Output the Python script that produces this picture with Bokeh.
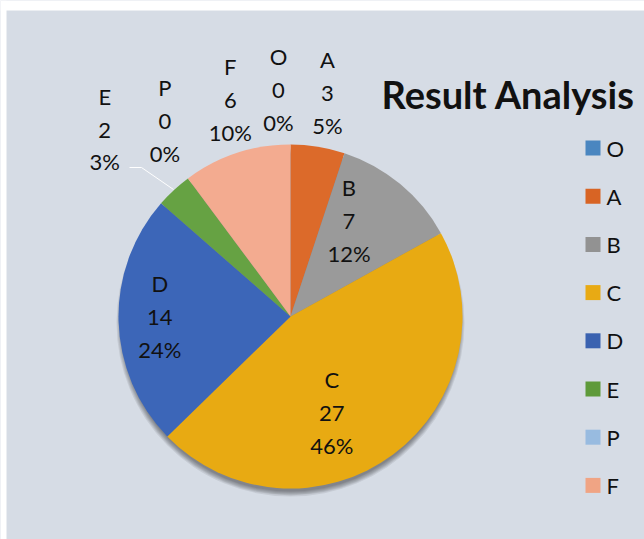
import math
from bokeh.plotting import figure
from bokeh.models import Range1d, ColumnDataSource
from bokeh.embed import file_html
from bokeh.resources import INLINE
from bokeh.core.properties import value

# ---- data ----
categories = ["O", "A", "B", "C", "D", "E", "P", "F"]
values = [0, 3, 7, 27, 14, 2, 0, 6]
colors = ["#4e88c6", "#dc6a2a", "#9a9a9a", "#e8aa12", "#3c66b8", "#66a243", "#9cc0e6", "#f3ab90"]
legend_colors = ["#4a86c0", "#d86424", "#929292", "#e8aa14", "#3a62b0", "#5e9a3a", "#98bbe0", "#f0a484"]
title = "Result Analysis"

# label anchor positions, in units of the pie radius (dx, dy from centre)
label_pos = [(-0.07, 1.32), (0.215, 1.30), (0.34, 0.56), (0.24, -0.56),
             (-0.76, 0.0), (-1.08, 1.09), (-0.73, 1.14), (-0.35, 1.26)]

# ---- layout ----
W, H = 644, 539
CX, CY, R = 290, 316, 172
FONT = "Lato"

p = figure(width=W, height=H, x_range=Range1d(0, W), y_range=Range1d(-H, 0),
           output_backend="svg", toolbar_location=None, min_border=0)
p.axis.visible = False
p.grid.visible = False
p.outline_line_color = None
p.background_fill_color = "#d6dce5"
p.border_fill_color = "#d6dce5"

# white margins along the top and left like the reference
p.quad(left=[0], right=[W], top=[0], bottom=[-10], fill_color="white", line_color=None)
p.quad(left=[0], right=[6], top=[0], bottom=[-H], fill_color="white", line_color=None)

# shadow (mostly below the pie)
for k in range(6):
    p.circle(x=[CX], y=[-(CY + 6)], radius=R + 2 - k, fill_color="black",
             fill_alpha=0.08, line_color=None)

total = sum(values)
starts, ends, cols, cats = [], [], [], []
cum = 0
for c, v, col in zip(categories, values, colors):
    a0 = math.pi / 2 - cum / total * 2 * math.pi
    cum += v
    a1 = math.pi / 2 - cum / total * 2 * math.pi
    if v > 0:
        starts.append(a0); ends.append(a1); cols.append(col); cats.append(c)

src = ColumnDataSource(dict(x=[CX] * len(cats), y=[-CY] * len(cats), start=starts, end=ends, color=cols))
p.wedge(x="x", y="y", radius=R, start_angle="start", end_angle="end", direction="clock",
        fill_color="color", line_color=None, source=src)

# leader line for E
p.line(x=[129, 141, 173], y=[-167, -167, -189], line_color="white", line_width=1)

# data labels
texts, lx, ly = [], [], []
for c, v, (dx, dy) in zip(categories, values, label_pos):
    pct = round(v / total * 100)
    texts.append(f"{c}\n{v}\n{pct}%")
    lx.append(CX + dx * R)
    ly.append(-CY + dy * R)
p.text(x=lx, y=ly, text=texts, text_font=value(FONT), text_font_size="22px",
       text_align="center", text_baseline="middle", text_line_height=1.22, text_color="#111111")

# title
p.text(x=[381], y=[-93], text=[title], text_font=value(FONT), text_font_style="bold",
       text_font_size="38px", text_align="left", text_baseline="alphabetic", text_color="#111111")

# legend
ly0, step = 147.5, 48.2
lys = [-(ly0 + i * step) for i in range(len(categories))]
p.rect(x=[592.5] * len(categories), y=lys, width=15, height=15, fill_color=legend_colors, line_color=None)
p.text(x=[606] * len(categories), y=lys, text=categories, text_font=value(FONT), text_font_size="22px",
       text_align="left", text_baseline="middle", text_color="#111111")

open("out.html", "w").write(file_html(p, INLINE))
